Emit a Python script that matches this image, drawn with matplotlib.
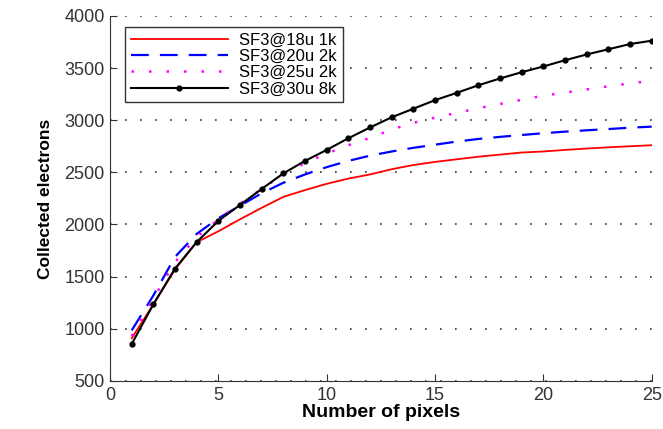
import matplotlib
matplotlib.use('Agg')
import matplotlib.pyplot as plt

plt.rcParams['font.family'] = ['Liberation Sans', 'DejaVu Sans']

pixels = list(range(1, 26))

sf3_18u = [910, 1235, 1570, 1830, 1935, 2050, 2160, 2265, 2330, 2390,
           2440, 2480, 2530, 2570, 2600, 2625, 2650, 2670, 2690, 2700,
           2715, 2728, 2740, 2750, 2760]
sf3_20u = [985, 1320, 1690, 1910, 2060, 2180, 2300, 2400, 2480, 2550,
           2610, 2660, 2700, 2735, 2765, 2795, 2820, 2840, 2858, 2875,
           2890, 2903, 2915, 2928, 2938]
sf3_25u = [930, 1290, 1640, 1880, 2050, 2200, 2340, 2480, 2590, 2680,
           2760, 2830, 2910, 2975, 3025, 3070, 3115, 3155, 3195, 3235,
           3265, 3295, 3325, 3352, 3379]
sf3_30u = [855, 1235, 1578, 1832, 2035, 2188, 2341, 2490, 2610, 2715,
           2827, 2930, 3028, 3110, 3192, 3262, 3335, 3400, 3460, 3515,
           3575, 3630, 3680, 3730, 3762]

labels = ['SF3@18u 1k', 'SF3@20u 2k', 'SF3@25u 2k', 'SF3@30u 8k']

fig = plt.figure(figsize=(6.63, 4.29), dpi=100)
ax = fig.add_axes([0.166, 0.112, 0.817, 0.851])

ax.plot(pixels, sf3_18u, color='#ff0000', lw=1.3, label=labels[0])
ax.plot(pixels, sf3_20u, color='#0000ff', lw=1.6, linestyle=(0, (8, 5)), label=labels[1])
ax.plot(pixels, sf3_25u, color='#ff00ff', lw=1.8, linestyle=(0, (1, 6)), label=labels[2])
ax.plot(pixels, sf3_30u, color='black', lw=1.5, marker='o', markersize=3.5, label=labels[3])

ax.set_xlim(0, 25)
ax.set_ylim(500, 4000)
ax.set_xticks(range(0, 26, 5))
ax.set_yticks(range(500, 4001, 500))

ax.yaxis.grid(True, linestyle=(0, (1, 8)), color='#333333', lw=1.2)
ax.set_axisbelow(True)

ax.spines['top'].set_visible(False)
ax.spines['right'].set_visible(False)
for s in ['left', 'bottom']:
    ax.spines[s].set_color('#333333')
ax.tick_params(direction='in', length=5, labelsize=13, colors='#333333',
               labelcolor='#333333', pad=4)

ax.set_xlabel('Number of pixels', fontsize=14, fontweight='bold', labelpad=0)
ax.set_ylabel('Collected electrons', fontsize=12.5, fontweight='bold', labelpad=8)

leg = ax.legend(loc='upper left', bbox_to_anchor=(0.028, 0.97), borderaxespad=0,
                fontsize=12, handlelength=5.8, fancybox=False, framealpha=1,
                edgecolor='#333333', borderpad=0.35, labelspacing=0.08,
                handletextpad=0.7)
leg.get_frame().set_linewidth(1.0)

fig.savefig('out.png', dpi=100)
